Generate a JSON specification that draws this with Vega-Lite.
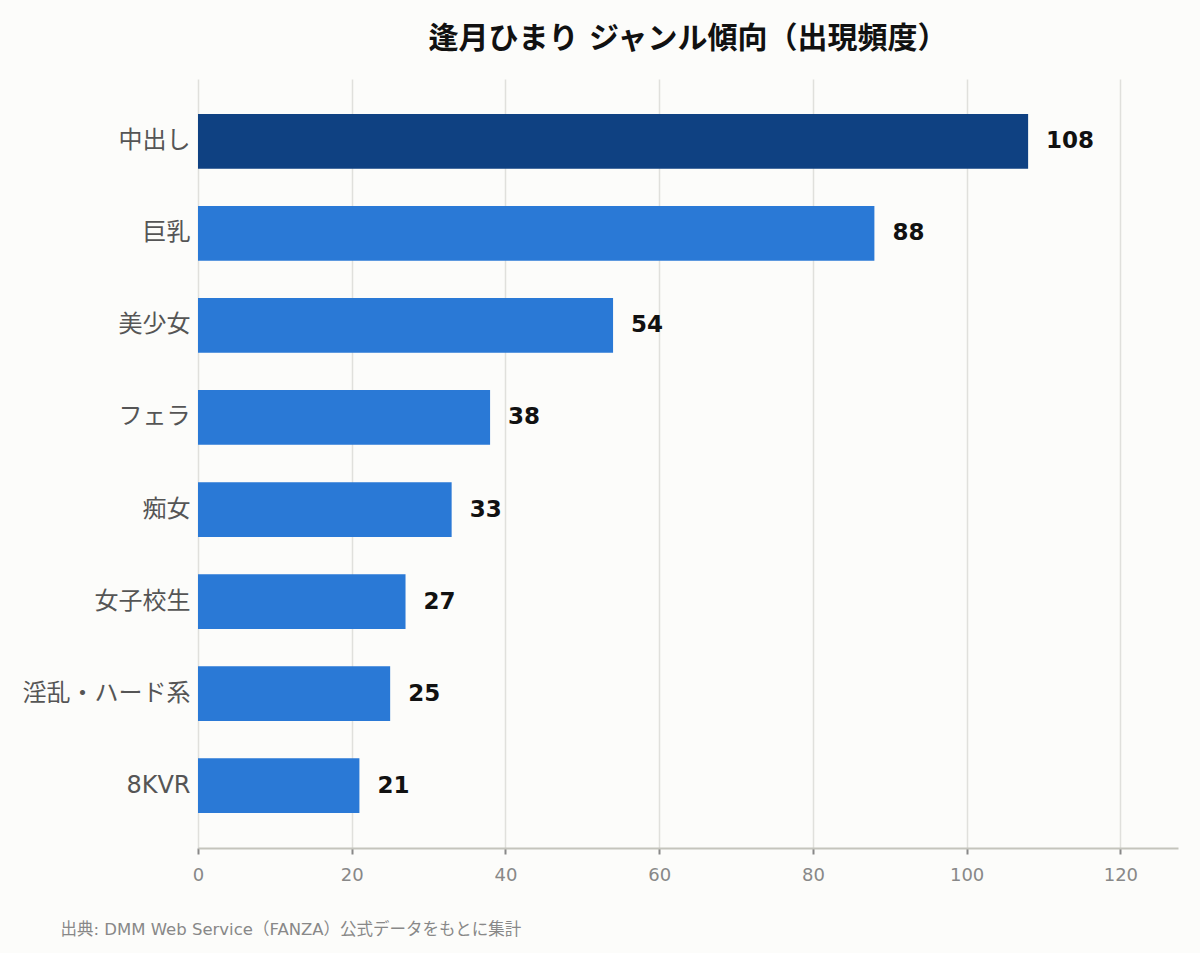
{
  "$schema": "https://vega.github.io/schema/vega-lite/v6.json",
  "autosize": {"type": "none"},
  "padding": {"left": 198, "top": 79, "right": 22, "bottom": 105},
  "width": 980,
  "height": 769,
  "background": "#fcfcfa",
  "config": {
    "font": "DejaVu Sans, Noto Sans CJK JP",
    "view": {"stroke": null}
  },
  "title": {
    "text": "逢月ひまり ジャンル傾向（出現頻度）",
    "fontSize": 30,
    "fontWeight": "bold",
    "color": "#111111",
    "anchor": "middle",
    "offset": 25
  },
  "data": {
    "values": [
      {"genre": "中出し", "count": 108},
      {"genre": "巨乳", "count": 88},
      {"genre": "美少女", "count": 54},
      {"genre": "フェラ", "count": 38},
      {"genre": "痴女", "count": 33},
      {"genre": "女子校生", "count": 27},
      {"genre": "淫乱・ハード系", "count": 25},
      {"genre": "8KVR", "count": 21}
    ]
  },
  "encoding": {
    "y": {
      "field": "genre",
      "type": "nominal",
      "sort": null,
      "scale": {"paddingInner": 0.405, "paddingOuter": 0.38},
      "axis": {
        "title": null,
        "domain": false,
        "ticks": false,
        "grid": false,
        "labelFontSize": 24,
        "labelColor": "#555555",
        "labelPadding": 8
      }
    },
    "x": {
      "field": "count",
      "type": "quantitative",
      "scale": {"domain": [0, 127.5], "nice": false},
      "axis": {
        "values": [0, 20, 40, 60, 80, 100, 120],
        "grid": true,
        "gridColor": "#e0e0dc",
        "gridWidth": 1.5,
        "domainColor": "#c4c4bc",
        "domainWidth": 2,
        "tickColor": "#888888",
        "tickSize": 6,
        "tickWidth": 2,
        "labelFontSize": 18,
        "labelColor": "#888888",
        "labelPadding": 12,
        "labelFlush": false,
        "title": "出典: DMM Web Service（FANZA）公式データをもとに集計",
        "titleFontSize": 16.5,
        "titleFontWeight": "normal",
        "titleColor": "#888888",
        "titleAnchor": "start",
        "titleAlign": "left",
        "titleBaseline": "middle",
        "titleX": -138,
        "titleY": 81
      }
    }
  },
  "layer": [
    {
      "mark": {"type": "bar"},
      "encoding": {
        "color": {
          "condition": {"test": "datum.genre === '中出し'", "value": "#0f4182"},
          "value": "#2a79d6"
        }
      }
    },
    {
      "mark": {
        "type": "text",
        "align": "left",
        "baseline": "middle",
        "dx": 18,
        "fontSize": 23,
        "fontWeight": "bold",
        "color": "#111111"
      },
      "encoding": {
        "text": {"field": "count", "type": "quantitative"}
      }
    }
  ]
}
